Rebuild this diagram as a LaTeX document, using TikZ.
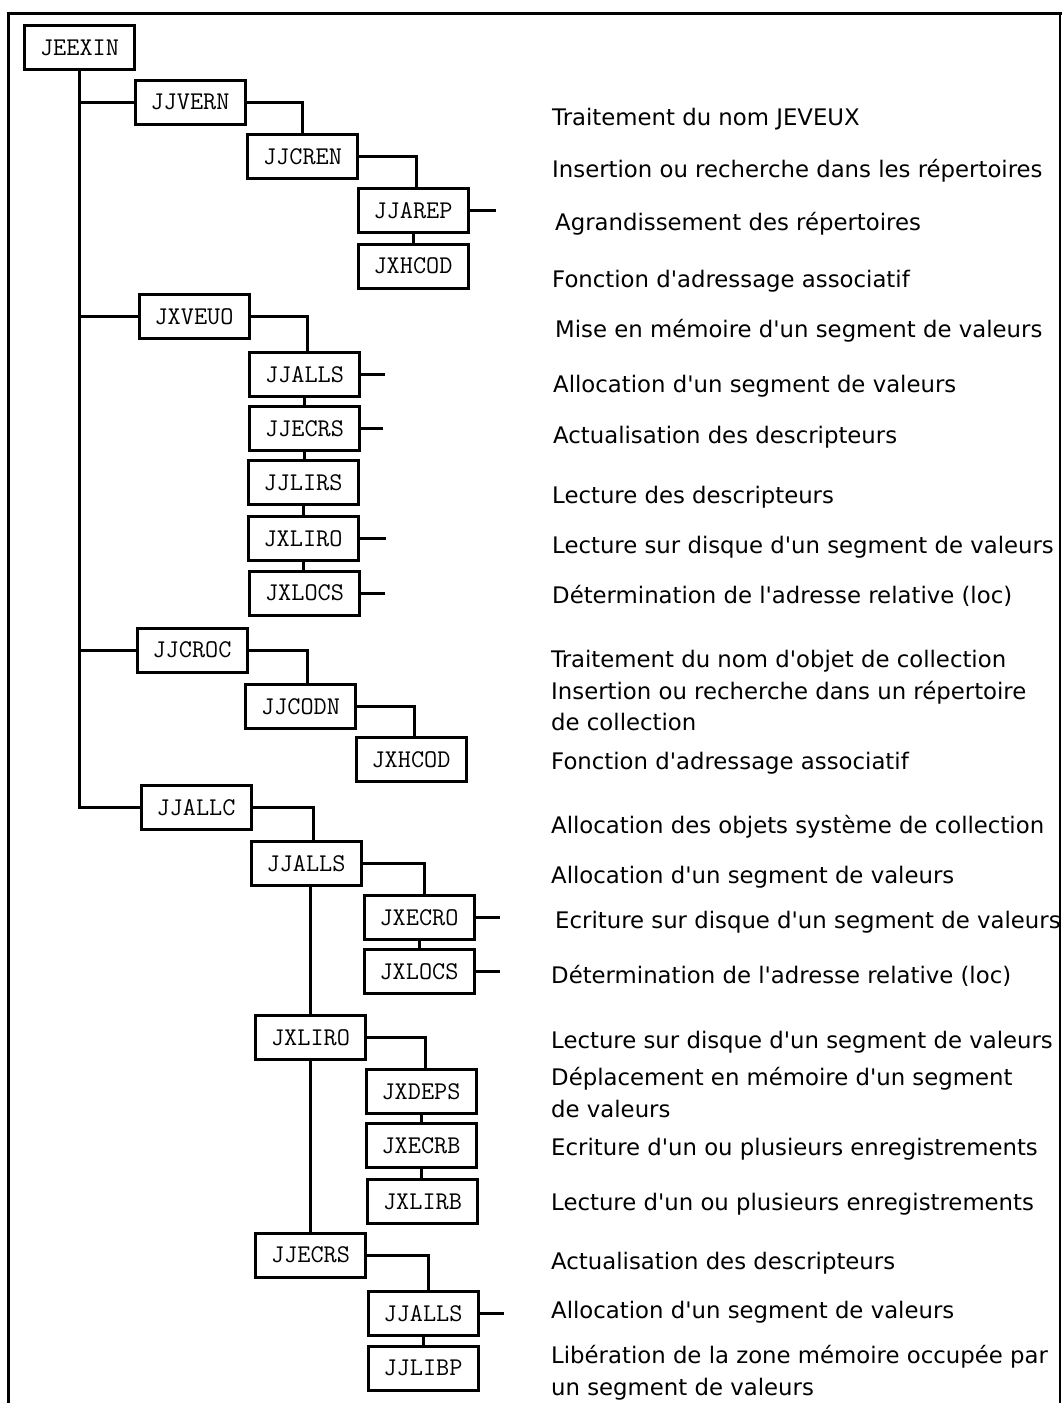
\documentclass[tikz,border=0pt]{standalone}
\usepackage{fontspec}
\newfontfamily\lblfam{DejaVu Sans}
\newcommand\lblfont{\lblfam\fontsize{22.8}{31}\selectfont}
\newcommand\boxfont{\ttfamily\fontsize{25.5}{28}\selectfont}
\tikzset{
  box/.style={draw=black, line width=3pt, minimum width=110pt, minimum height=44pt, inner sep=0pt, font=\boxfont, fill=white},
  lbl/.style={anchor=base west, inner sep=0pt, font=\lblfont},
  conn/.style={line width=3pt, draw=black},
  framel/.style={line width=3pt, draw=black},
  framer/.style={line width=2pt, draw=black}
}
\begin{document}
\begin{tikzpicture}[x=1pt,y=-1pt]
\useasboundingbox (0,0) rectangle (1064,1403);
\fill[white] (0,0) rectangle (1064,1403);
% frame
\draw[framel] (8,1403) -- (8,13) -- (1062,13);
\draw[framer] (1060,13) -- (1060,1403);

% boxes
\node[box] (jeexin)  at (79.5,47.5)  {JEEXIN};
\node[box] (jjvern)  at (190,102)    {JJVERN};
\node[box] (jjcren)  at (302.5,156.5){JJCREN};
\node[box] (jjarep)  at (413,210.5)  {JJAREP};
\node[box] (jxhcod)  at (413,266)    {JXHCOD};
\node[box] (jxveuo)  at (194,316.5)  {JXVEUO};
\node[box] (jjalls)  at (304.5,374.5){JJALLS};
\node[box] (jjecrs)  at (304.5,428.5){JJECRS};
\node[box] (jjlirs)  at (303,482.5)  {JJLIRS};
\node[box] (jxliro)  at (303,538.5)  {JXLIRO};
\node[box] (jxlocs)  at (304.5,593)  {JXLOCS};
\node[box] (jjcroc)  at (192,650)    {JJCROC};
\node[box] (jjcodn)  at (300.5,706.5){JJCODN};
\node[box] (jxhcodb) at (411,759.5)  {JXHCOD};
\node[box] (jjallc)  at (196,807.5)  {JJALLC};
\node[box] (jjallsb) at (306,863.5)  {JJALLS};
\node[box] (jxecro)  at (419,917.5)  {JXECRO};
\node[box] (jxlocsb) at (419,971.5)  {JXLOCS};
\node[box] (jxlirob) at (310.5,1037.5){JXLIRO};
\node[box] (jxdeps)  at (421,1091.5) {JXDEPS};
\node[box] (jxecrb)  at (421,1145.5) {JXECRB};
\node[box] (jxlirb)  at (422.5,1201.5){JXLIRB};
\node[box] (jjecrsb) at (310.5,1255) {JJECRS};
\node[box] (jjallsc) at (423,1313.5) {JJALLS};
\node[box] (jjlibp)  at (423,1368)   {JJLIBP};

% stub end points
\coordinate (s1) at ([xshift=26pt]jjarep.east);
\coordinate (s2) at ([xshift=24pt]jjalls.east);
\coordinate (s3) at ([xshift=22pt]jjecrs.east);
\coordinate (s4) at ([xshift=26pt]jxliro.east);
\coordinate (s5) at ([xshift=24pt]jxlocs.east);
\coordinate (s6) at ([xshift=24pt]jxecro.east);
\coordinate (s7) at ([xshift=24pt]jxlocsb.east);
\coordinate (s8) at ([xshift=24pt]jjallsc.east);

% trunk
\draw[conn] (jeexin.south) -- (jeexin.south |- jjallc.west) -- (jjallc.west);
\draw[conn] (jeexin.south |- jjvern.west) -- (jjvern.west);
\draw[conn] (jeexin.south |- jxveuo.west) -- (jxveuo.west);
\draw[conn] (jeexin.south |- jjcroc.west) -- (jjcroc.west);

% JJVERN branch
\draw[conn] (jjvern.east) -| (jjcren.north);
\draw[conn] (jjcren.east) -| ([xshift=3pt]jjarep.north);
\draw[conn] (jjarep.south) -- (jxhcod.north);
\draw[conn] (jjarep.east) -- (s1);

% JXVEUO branch
\draw[conn] (jxveuo.east) -| ([xshift=2.5pt]jjalls.north);
\draw[conn] (jjalls.south) -- (jjecrs.north);
\draw[conn] (jjecrs.south) -- (jjecrs.south |- jjlirs.north);
\draw[conn] (jjlirs.south) -- (jxliro.north);
\draw[conn] (jxliro.south) -- (jxliro.south |- jxlocs.north);
\draw[conn] (jjalls.east) -- (s2);
\draw[conn] (jjecrs.east) -- (s3);
\draw[conn] (jxliro.east) -- (s4);
\draw[conn] (jxlocs.east) -- (s5);

% JJCROC branch
\draw[conn] (jjcroc.east) -| ([xshift=6.5pt]jjcodn.north);
\draw[conn] (jjcodn.east) -| ([xshift=3pt]jxhcodb.north);

% JJALLC branch
\draw[conn] (jjallc.east) -| ([xshift=7pt]jjallsb.north);
\draw[conn] (jjallsb.east) -| ([xshift=5pt]jxecro.north);
\draw[conn] (jxecro.south) -- (jxlocsb.north);
\draw[conn] (jxecro.east) -- (s6);
\draw[conn] (jxlocsb.east) -- (s7);
\draw[conn] (jxlirob.north) -- (jxlirob.north |- jjallsb.south);
\draw[conn] (jxlirob.south) -- (jjecrsb.north);
\draw[conn] (jxlirob.east) -| ([xshift=4pt]jxdeps.north);
\draw[conn] (jxdeps.south) -- (jxecrb.north);
\draw[conn] (jxecrb.south) -- (jxecrb.south |- jxlirb.north);
\draw[conn] (jjecrsb.east) -| ([xshift=5pt]jjallsc.north);
\draw[conn] (jjallsc.south) -- (jjlibp.north);
\draw[conn] (jjallsc.east) -- (s8);

% labels
\node[lbl] (l1)  at (552,125)  {Traitement du nom JEVEUX};
\node[lbl] (l2)  at (552,177)  {Insertion ou recherche dans les répertoires};
\node[lbl] (l3)  at (555,230)  {Agrandissement des répertoires};
\node[lbl] (l4)  at (552,287)  {Fonction d'adressage associatif};
\node[lbl] (l5)  at (555,337)  {Mise en mémoire d'un segment de valeurs};
\node[lbl] (l6)  at (553,392)  {Allocation d'un segment de valeurs};
\node[lbl] (l7)  at (553,443)  {Actualisation des descripteurs};
\node[lbl] (l8)  at (552,503)  {Lecture des descripteurs};
\node[lbl] (l9)  at (552,553)  {Lecture sur disque d'un segment de valeurs};
\node[lbl] (l10) at (552,603)  {Détermination de l'adresse relative (loc)};
\node[lbl] (l11) at (551,667)  {Traitement du nom d'objet de collection};
\node[lbl] (l12) at (551,699)  {Insertion ou recherche dans un répertoire};
\node[lbl] (l12b) at (551,730) {de collection};
\node[lbl] (l13) at (551,769)  {Fonction d'adressage associatif};
\node[lbl] (l14) at (551,833)  {Allocation des objets système de collection};
\node[lbl] (l15) at (551,883)  {Allocation d'un segment de valeurs};
\node[lbl] (l16) at (555,928)  {Ecriture sur disque d'un segment de valeurs};
\node[lbl] (l17) at (551,983)  {Détermination de l'adresse relative (loc)};
\node[lbl] (l18) at (551,1048) {Lecture sur disque d'un segment de valeurs};
\node[lbl] (l19) at (551,1085) {Déplacement en mémoire d'un segment};
\node[lbl] (l19b) at (551,1117) {de valeurs};
\node[lbl] (l20) at (551,1155) {Ecriture d'un ou plusieurs enregistrements};
\node[lbl] (l21) at (551,1210) {Lecture d'un ou plusieurs enregistrements};
\node[lbl] (l22) at (551,1269) {Actualisation des descripteurs};
\node[lbl] (l23) at (551,1318) {Allocation d'un segment de valeurs};
\node[lbl] (l24) at (551,1363) {Libération de la zone mémoire occupée par};
\node[lbl] (l24b) at (551,1395) {un segment de valeurs};
\end{tikzpicture}
\end{document}
